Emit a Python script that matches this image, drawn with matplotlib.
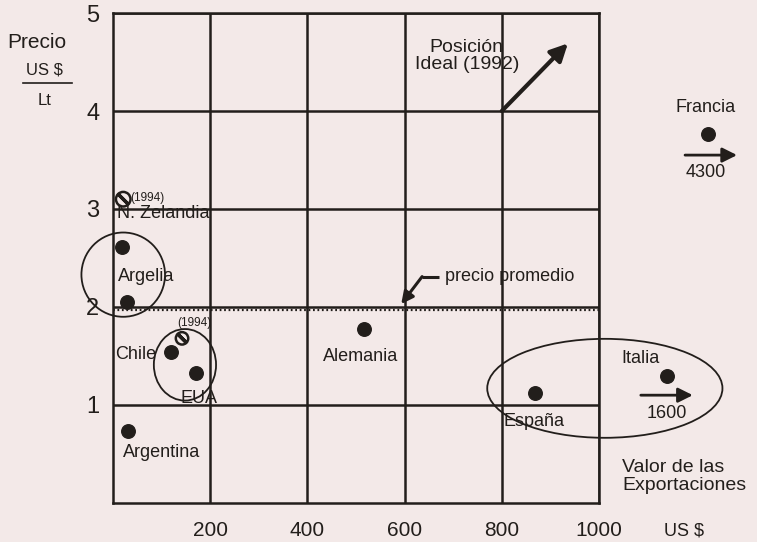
import matplotlib
matplotlib.use("Agg")
import matplotlib.pyplot as plt
from matplotlib.patches import Ellipse
from matplotlib.lines import Line2D

# countries as drawn on the chart (Italia and Francia sit off-scale, beyond 1000)
countries = ["N. Zelandia", "Argelia", "Chile", "EUA", "Argentina",
             "Alemania", "España", "Italia", "Francia"]
export_value = [18, 29, 119, 171, 31, 516, 868, 1140, 1225]
price = [2.61, 2.05, 1.54, 1.33, 0.73, 1.78, 1.12, 1.30, 3.77]

# 1994 positions (hollow slashed circles)
pos94_x = [21, 142]
pos94_y = [3.10, 1.68]

# off-scale true values
italia_real = "1600"
francia_real = "4300"

x_ticks = [200, 400, 600, 800, 1000]
y_ticks = [1, 2, 3, 4, 5]
avg_price = 2.0

INK = "#221e1b"
BG = "#f3e9e8"
FONT = "Liberation Sans"

plt.rcParams["font.family"] = [FONT, "DejaVu Sans"]

fig = plt.figure(figsize=(7.57, 5.42), dpi=100, facecolor=BG)
ax = fig.add_axes([0.1493, 0.072, 0.642, 0.904])
ax.set_facecolor(BG)
ax.set_xlim(0, 1000)
ax.set_ylim(0, 5)

ax.set_xticks(x_ticks)
ax.set_xticklabels([str(v) for v in x_ticks], fontsize=15, color=INK)
ax.set_yticks(y_ticks)
ax.set_yticklabels([str(v) for v in y_ticks], fontsize=17, color=INK)
ax.tick_params(axis="both", length=0, colors=INK)
ax.tick_params(axis="x", pad=13)
ax.tick_params(axis="y", pad=10)
ax.grid(True, color=INK, linewidth=1.8)
ax.set_axisbelow(True)
for sp in ax.spines.values():
    sp.set_color(INK)
    sp.set_linewidth(1.8)

# average price line (hatched look just under the grid line)
ax.axhline(avg_price - 0.035, color=INK, linewidth=1.6, linestyle=(0, (0.8, 1.2)))

# data points
ax.scatter(export_value, price, s=95, color=INK, zorder=5, clip_on=False)
ax.scatter(pos94_x, pos94_y, s=[110, 80], facecolors="none", edgecolors=INK,
           linewidths=1.8, zorder=5, clip_on=False)
ax.scatter(pos94_x, pos94_y, s=[85, 60], marker=(2, 2, 45), color=INK,
           linewidths=2.4, zorder=6, clip_on=False)

# grouping circles
for (cx, cy, w, h) in [(21, 2.33, 172, 0.86), (148, 1.41, 128, 0.73), (1012, 1.17, 484, 1.01)]:
    ax.add_patch(Ellipse((cx, cy), w, h, fill=False, edgecolor=INK,
                         linewidth=1.3, clip_on=False, zorder=4))

lab = dict(fontsize=13, color=INK, va="center", clip_on=False, zorder=7)
ax.text(8, 2.95, "N. Zelandia", ha="left", **lab)
ax.text(10, 2.31, "Argelia", ha="left", **lab)
ax.text(4, 1.52, "Chile", ha="left", **lab)
ax.text(177, 1.07, "EUA", ha="center", **lab)
ax.text(21, 0.51, "Argentina", ha="left", **lab)
ax.text(510, 1.49, "Alemania", ha="center", **lab)
ax.text(866, 0.83, "España", ha="center", **lab)
ax.text(1086, 1.47, "Italia", ha="center", **lab)
ax.text(1140, 0.91, italia_real, ha="center", **lab)
ax.text(1220, 4.04, "Francia", ha="center", **lab)
ax.text(1220, 3.37, francia_real, ha="center", **lab)
ax.text(728, 4.56, "Posición\nIdeal (1992)", ha="center", linespacing=1.0,
        fontsize=14, color=INK, va="center", zorder=7)
ax.text(683, 2.31, "precio promedio", ha="left", **lab)

small = dict(fontsize=8.5, color=INK, va="center", zorder=7)
ax.text(35, 3.11, "(1994)", ha="left", **small)
ax.text(167, 1.84, "(1994)", ha="center", **small)

arrow = dict(arrowstyle="-|>", color=INK, lw=2.0, mutation_scale=22,
             shrinkA=0, shrinkB=0)
ax.annotate("", xy=(1193, 1.10), xytext=(1086, 1.10), arrowprops=arrow,
            annotation_clip=False)
ax.annotate("", xy=(1284, 3.55), xytext=(1177, 3.55), arrowprops=arrow,
            annotation_clip=False)
ax.annotate("", xy=(936, 4.69), xytext=(800, 4.0),
            arrowprops=dict(arrowstyle="-|>", color=INK, lw=3.0,
                            mutation_scale=26, shrinkA=0, shrinkB=0),
            annotation_clip=False)

# pointer to the average price line
ax.plot([671, 636], [2.31, 2.31], color=INK, lw=2.2, solid_capstyle="butt")
ax.annotate("", xy=(593, 2.03), xytext=(636, 2.31),
            arrowprops=dict(arrowstyle="-|>", color=INK, lw=2.2,
                            mutation_scale=18, shrinkA=0, shrinkB=0))

# axis titles
fig.text(0.048, 0.921, "Precio", ha="center", va="center", fontsize=15, color=INK)
fig.text(0.059, 0.871, "US $", ha="center", va="center", fontsize=12, color=INK)
fig.add_artist(Line2D([0.030, 0.095], [0.847, 0.847], color=INK, lw=1.2))
fig.text(0.059, 0.815, "Lt", ha="center", va="center", fontsize=12, color=INK)
fig.text(0.822, 0.138, "Valor de las", ha="left", va="center", fontsize=14, color=INK)
fig.text(0.822, 0.105, "Exportaciones", ha="left", va="center", fontsize=14, color=INK)
fig.text(0.904, 0.020, "US $", ha="center", va="center", fontsize=13, color=INK)

fig.savefig("out.png", dpi=100, facecolor=BG)
